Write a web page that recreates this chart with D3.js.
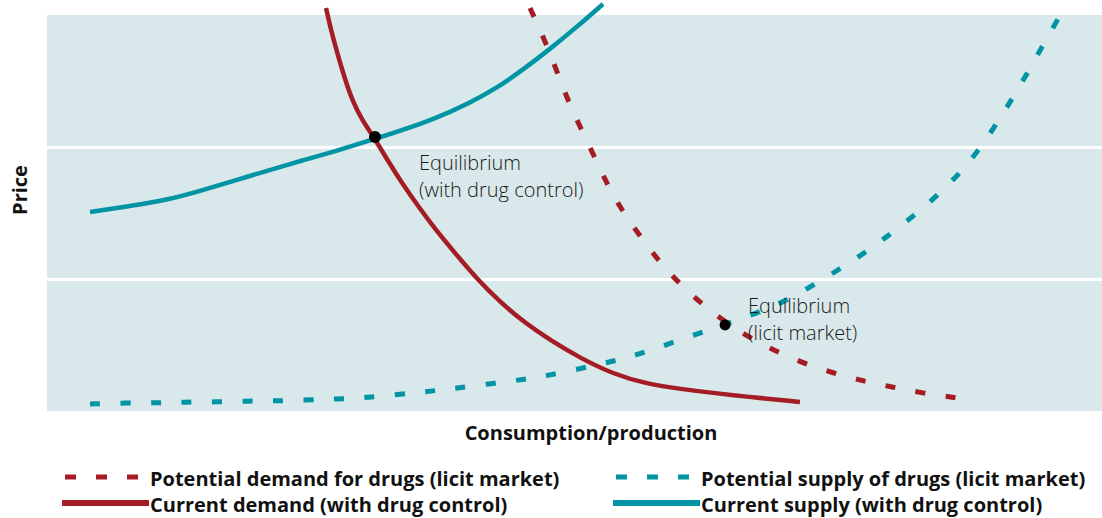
<!DOCTYPE html>
<html>
<head>
<meta charset="utf-8">
<script src="https://cdnjs.cloudflare.com/ajax/libs/d3/7.8.5/d3.min.js"></script>
<style>
  body { margin: 0; background: #fff; }
  text { font-family: "Open Sans", "Noto Sans", sans-serif; }
  .grid line { stroke: #fff; stroke-width: 3; }
  .grid .domain { display: none; }
  .grid text { display: none; }
  .axis-title { font-weight: bold; font-size: 20px; fill: #111; }
  .note { font-size: 20px; fill: #1a1a1a; font-weight: 300; }
  .legend text { font-weight: bold; font-size: 20px; fill: #111; }
</style>
</head>
<body>
<div id="chart"></div>
<script>
// price / quantity units: x 0-100, y 0-30 (gridlines every 10)
var currentDemand = [
  [26.45, 30.53], [26.92, 28.86], [27.49, 27.2], [28.15, 25.38], [28.91, 23.56],
  [29.86, 22.05], [31.09, 20.61], [32.32, 18.94], [33.65, 17.27], [35.17, 15.53],
  [36.78, 13.79], [38.67, 11.97], [40.76, 10.0], [42.94, 8.26], [45.31, 6.67],
  [47.68, 5.38], [50.52, 4.02], [53.65, 2.8], [56.87, 2.05], [60.0, 1.67],
  [64.74, 1.21], [71.37, 0.68]
];
var currentSupply = [
  [4.08, 15.08], [7.87, 15.53], [11.37, 15.98], [14.5, 16.67], [17.63, 17.42],
  [21.14, 18.26], [23.98, 18.94], [27.11, 19.62], [31.09, 20.61], [36.59, 22.05],
  [40.09, 23.33], [42.94, 24.62], [45.31, 25.98], [47.68, 27.42], [50.33, 29.17], [52.7, 30.83]
];
var potentialDemand = [
  [45.78, 30.53], [47.39, 27.73], [48.63, 25.08], [49.57, 23.18], [50.81, 21.06],
  [52.13, 18.86], [53.36, 16.74], [54.79, 14.85], [56.49, 12.95], [58.29, 11.06],
  [60.28, 9.39], [62.84, 7.58], [65.69, 5.98], [68.25, 4.85], [71.37, 3.71],
  [74.5, 2.88], [77.35, 2.27], [80.09, 1.82], [82.94, 1.36], [86.35, 0.98]
];
var potentialSupply = [
  [4.08, 0.53], [7.58, 0.61], [10.52, 0.61], [13.08, 0.68], [16.02, 0.68],
  [18.96, 0.76], [21.42, 0.76], [24.36, 0.83], [27.3, 0.91], [29.86, 0.98],
  [32.8, 1.21], [35.64, 1.44], [38.2, 1.67], [41.04, 1.97], [44.08, 2.27],
  [46.73, 2.58], [49.57, 3.03], [52.42, 3.56], [54.98, 4.02], [57.63, 4.7],
  [60.47, 5.53], [63.32, 6.29], [65.97, 7.05], [68.82, 7.88], [71.56, 9.02],
  [74.22, 10.3], [76.78, 11.59], [78.96, 12.8], [82.27, 14.85], [84.45, 16.36],
  [86.64, 18.11], [88.25, 19.7], [89.95, 21.67], [91.47, 23.64], [92.99, 25.68],
  [94.41, 27.73], [96.21, 30.23]
];
var equilibria = [
  {x: 31.09, y: 20.76, lines: ["Equilibrium", "(with drug control)"], r: 6, dx: 44, dy: 33},
  {x: 64.27, y: 6.52, lines: ["Equilibrium", "(licit market)"], r: 5.5, dx: 23, dy: -12}
];
var gridTicks = [10, 20];
var legendItems = [
  {label: "Potential demand for drugs (licit market)", color: "#a51d24", dashed: true},
  {label: "Current demand (with drug control)", color: "#a51d24", dashed: false},
  {label: "Potential supply of drugs (licit market)", color: "#0094a4", dashed: true},
  {label: "Current supply (with drug control)", color: "#0094a4", dashed: false}
];

var margin = {top: 15, right: 0, bottom: 107, left: 47};
var width = 1102 - margin.left - margin.right;
var height = 518 - margin.top - margin.bottom;

var svg = d3.select("#chart").append("svg")
    .attr("width", 1102)
    .attr("height", 518);

var g = svg.append("g")
    .attr("transform", "translate(" + margin.left + "," + margin.top + ")");

var x = d3.scaleLinear().domain([0, 100]).range([0, width]);
var y = d3.scaleLinear().domain([0, 30]).range([height, 0]);

g.append("rect")
    .attr("width", width)
    .attr("height", height)
    .attr("fill", "#d9e8eb");

g.append("g")
    .attr("class", "grid")
    .call(d3.axisLeft(y).tickValues(gridTicks).tickSize(-width));

var line = d3.line()
    .x(function(d) { return x(d[0]); })
    .y(function(d) { return y(d[1]); })
    .curve(d3.curveBasis);

var curves = [
  {data: potentialSupply, color: "#0094a4", dashed: true},
  {data: potentialDemand, color: "#a51d24", dashed: true},
  {data: currentSupply, color: "#0094a4", dashed: false},
  {data: currentDemand, color: "#a51d24", dashed: false}
];

g.selectAll(".curve")
    .data(curves)
  .enter().append("path")
    .attr("class", "curve")
    .attr("d", function(d) { return line(d.data); })
    .attr("fill", "none")
    .attr("stroke", function(d) { return d.color; })
    .attr("stroke-width", function(d) { return d.dashed ? 5 : 4.5; })
    .attr("stroke-dasharray", function(d) { return d.dashed ? "10,20.5" : null; });

var eq = g.selectAll(".eq")
    .data(equilibria)
  .enter().append("g")
    .attr("class", "eq");

eq.append("circle")
    .attr("cx", function(d) { return x(d.x); })
    .attr("cy", function(d) { return y(d.y); })
    .attr("r", function(d) { return d.r; })
    .attr("fill", "#000");

eq.append("text")
    .attr("class", "note")
    .attr("x", function(d) { return x(d.x) + d.dx; })
    .attr("y", function(d) { return y(d.y) + d.dy; })
    .selectAll("tspan")
    .data(function(d) { return d.lines; })
  .enter().append("tspan")
    .attr("x", function() { return this.parentNode.getAttribute("x"); })
    .attr("dy", function(d, i) { return i ? 27 : 0; })
    .text(function(d) { return d; });

svg.append("text")
    .attr("class", "axis-title")
    .attr("transform", "translate(27,190) rotate(-90)")
    .attr("text-anchor", "middle")
    .text("Price");

svg.append("text")
    .attr("class", "axis-title")
    .attr("x", 591)
    .attr("y", 440)
    .attr("text-anchor", "middle")
    .text("Consumption/production");

var legend = svg.append("g").attr("class", "legend");

var item = legend.selectAll(".item")
    .data(legendItems)
  .enter().append("g")
    .attr("class", "item")
    .attr("transform", function(d, i) {
      return "translate(" + (i < 2 ? 62 : 613) + "," + (i % 2 ? 503 : 477) + ")";
    });

item.append("line")
    .attr("x1", function(d) { return d.dashed ? 3 : 0; })
    .attr("x2", function(d) { return d.dashed ? 76 : 87; })
    .attr("stroke", function(d) { return d.color; })
    .attr("stroke-width", function(d) { return d.dashed ? 5 : 6; })
    .attr("stroke-dasharray", function(d) { return d.dashed ? "11,20" : null; });

item.append("text")
    .attr("x", 88)
    .attr("y", 9)
    .text(function(d) { return d.label; });
</script>
</body>
</html>
